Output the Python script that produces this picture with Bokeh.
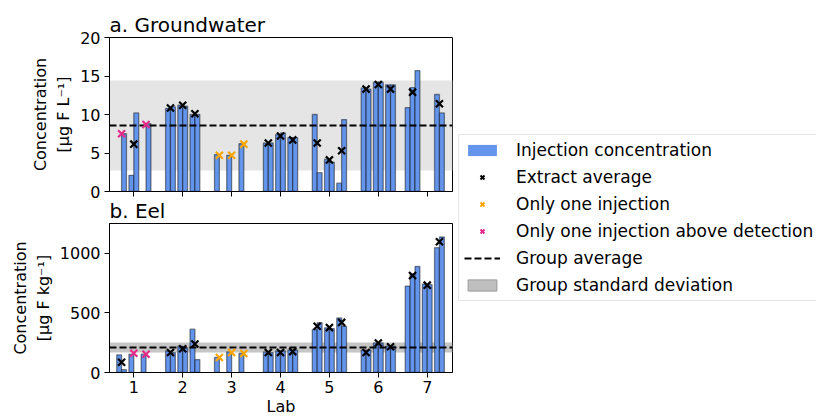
from bokeh.plotting import figure
from bokeh.models import Range1d, FixedTicker, Legend, LegendItem, Title
from bokeh.layouts import row, column
from bokeh.embed import file_html
from bokeh.resources import INLINE

FONT = "DejaVu Sans"

labs = [1, 2, 3, 4, 5, 6, 7]
lab_tick_labels = ["1", "2", "3", "4", "5", "6", "7"]

# ---- a. Groundwater: per lab, three sample slots, each a list of injection values (None = missing)
gw_injections = [
    [[None, 7.5], [2.1, 10.2], [None, 8.8]],
    [[10.8, 11.0], [11.2, 11.1], [10.0, 10.0]],
    [[4.8, None], [4.7, None], [6.2, None]],
    [[6.3, 6.3], [7.4, 7.6], [7.0, 7.0]],
    [[10.0, 2.45], [4.2, 3.8], [1.08, 9.34]],
    [[13.45, 13.3], [14.2, 14.2], [13.85, 13.85]],
    [[10.9, 13.5, 15.7], None, [12.6, 10.2]],
]
gw_extract_avg = [
    [7.5, 6.15, 8.7],
    [10.85, 11.2, 10.1],
    [4.7, 4.7, 6.15],
    [6.3, 7.2, 6.7],
    [6.3, 4.1, 5.3],
    [13.3, 13.9, 13.3],
    [12.9, None, 11.4],
]
gw_kind = [
    ["det", "avg", "det"],
    ["avg", "avg", "avg"],
    ["one", "one", "one"],
    ["avg", "avg", "avg"],
    ["avg", "avg", "avg"],
    ["avg", "avg", "avg"],
    ["avg", None, "avg"],
]
gw_group_avg = 8.55
gw_group_sd = 5.85
gw_yticks = [0, 5, 10, 15, 20]

# ---- b. Eel
eel_injections = [
    [[148, 24], [153, None], [153, None]],
    [[180, 167], [220, 207], [363, 108]],
    [[126, None], [172, None], [159, None]],
    [[172, 167], [180, 180], [188, 188]],
    [[360, 417], [374, 368], [457, 387]],
    [[188, 188], [247, 247], [220, 220]],
    [[723, 826, 887], [740, 735], [1045, 1134]],
]
eel_extract_avg = [
    [86, 161, 153],
    [167, 199, 239],
    [126, 167, 159],
    [167, 167, 175],
    [387, 376, 419],
    [167, 247, 215],
    [812, 731, 1094],
]
eel_kind = [
    ["avg", "det", "det"],
    ["avg", "avg", "avg"],
    ["one", "one", "one"],
    ["avg", "avg", "avg"],
    ["avg", "avg", "avg"],
    ["avg", "avg", "avg"],
    ["avg", "avg", "avg"],
]
eel_group_avg = 208
eel_group_sd = 43
eel_yticks = [0, 500, 1000]

legend_labels = ["Injection concentration", "Extract average", "Only one injection",
                 "Only one injection above detection", "Group average",
                 "Group standard deviation"]

BAR_COLOR = "#6495ED"
KIND_COLOR = {"avg": "black", "one": "#FFA500", "det": "#E7298A"}
SLOT = 0.25
BAR_W = 0.1


def build(injections, extracts, kinds):
    bx, bt = [], []
    mx, my, mc = [], [], []
    for lab, groups, exts, ks in zip(labs, injections, extracts, kinds):
        for slot, (inj, ext, k) in enumerate(zip(groups, exts, ks)):
            if inj is None:
                continue
            n = len(inj)
            center = lab + (slot - 1) * SLOT - 0.05 * (n - 2)
            for i, v in enumerate(inj):
                if v is None:
                    continue
                bx.append(center + (i - (n - 1) / 2) * BAR_W)
                bt.append(v)
            mx.append(center)
            my.append(ext)
            mc.append(KIND_COLOR[k])
    return bx, bt, mx, my, mc


def style(p, ylabel, yticks):
    p.grid.visible = False
    p.outline_line_color = "black"
    p.outline_line_width = 1
    for ax in (p.xaxis[0], p.yaxis[0]):
        ax.axis_line_color = "black"
        ax.major_tick_line_color = "black"
        ax.minor_tick_line_color = None
        ax.major_tick_out = 5
        ax.major_tick_in = 0
        ax.major_label_text_font = FONT
        ax.major_label_text_font_size = "16px"
        ax.major_label_text_color = "black"
        ax.axis_label_text_font = FONT
        ax.axis_label_text_font_size = "16px"
        ax.axis_label_text_font_style = "normal"
        ax.axis_label_text_color = "black"
        ax.major_label_standoff = 4
    p.xaxis.ticker = FixedTicker(ticks=labs)
    p.xaxis.major_label_overrides = {l: t for l, t in zip(labs, lab_tick_labels)}
    p.yaxis.ticker = FixedTicker(ticks=yticks)
    p.yaxis.axis_label = ylabel
    p.yaxis.axis_label_standoff = 4


def title(p, text, side, standoff, line_height=1.2):
    t = Title(text=text, align="left", text_font=FONT, text_font_size="20px",
              text_font_style="normal", text_color="black", standoff=standoff,
              text_line_height=line_height)
    p.add_layout(t, side)


def panel(p, injections, extracts, kinds, avg, sd, band_color):
    bx, bt, mx, my, mc = build(injections, extracts, kinds)
    p.hstrip(y0=[avg - sd], y1=[avg + sd], fill_color=band_color, fill_alpha=1, line_color=None)
    p.vbar(x=bx, top=bt, width=BAR_W, fill_color=BAR_COLOR, line_color="black",
           line_alpha=0.45, line_width=1.3)
    p.hspan(y=[avg], line_color="black", line_width=2, line_dash="7 3")
    p.scatter(x=mx, y=my, marker="x", size=10, line_width=2.2, line_color=mc)


XR = (0.503, 7.517)

p1 = figure(width=458, height=222, x_range=Range1d(*XR), y_range=Range1d(0, 20),
            output_backend="svg", toolbar_location=None,
            min_border_left=109, min_border_right=6, min_border_top=37, min_border_bottom=30)
style(p1, "Concentration\n[μg F L⁻¹]", gw_yticks)
title(p1, "a. Groundwater", "above", 2)
p1.xaxis.major_label_text_font_size = "1px"
p1.xaxis.major_label_text_color = None
p1.xaxis.major_label_standoff = 0
# the second panel's heading sits in the gap under the first panel
title(p1, "b. Eel", "below", 0, 1.0)
panel(p1, gw_injections, gw_extract_avg, gw_kind, gw_group_avg, gw_group_sd, "#E5E5E5")

p2 = figure(width=458, height=196, x_range=Range1d(*XR), y_range=Range1d(0, 1247),
            output_backend="svg", toolbar_location=None,
            min_border_left=109, min_border_right=6, min_border_top=1, min_border_bottom=40)
style(p2, "Concentration\n[μg F kg⁻¹]", eel_yticks)
p2.xaxis.axis_label = "Lab"
p2.xaxis.axis_label_standoff = 1
p2.xaxis.major_label_standoff = 3
panel(p2, eel_injections, eel_extract_avg, eel_kind, eel_group_avg, eel_group_sd, "#C6C6C6")

# ---- legend panel (dummy one-point renderers, out of view, just for the legend glyphs)
pleg = figure(width=358, height=418, x_range=Range1d(0, 1), y_range=Range1d(0, 1),
              output_backend="svg", toolbar_location=None, min_border=0)
pleg.axis.visible = False
pleg.grid.visible = False
pleg.outline_line_color = None
OUT = [-5]
r_bar = pleg.vbar(x=OUT, top=OUT, width=0.1, fill_color=BAR_COLOR, line_color=None)
r_avg = pleg.scatter(x=OUT, y=OUT, marker="x", size=10, line_width=2, line_color="black")
r_one = pleg.scatter(x=OUT, y=OUT, marker="x", size=10, line_width=2, line_color=KIND_COLOR["one"])
r_det = pleg.scatter(x=OUT, y=OUT, marker="x", size=10, line_width=2, line_color=KIND_COLOR["det"])
r_line = pleg.line(x=OUT * 2, y=OUT * 2, line_color="black", line_width=2, line_dash="7 3")
r_band = pleg.quad(left=OUT, right=OUT, top=OUT, bottom=OUT, fill_color="#BFBFBF",
                   line_color="#9A9A9A", line_width=1)
rs = [r_bar, r_avg, r_one, r_det, r_line, r_band]
legend = Legend(items=[LegendItem(label=l, renderers=[r]) for l, r in zip(legend_labels, rs)],
                location=(0, 117), glyph_width=36, glyph_height=14, label_height=14,
                spacing=7, padding=5, margin=0, label_standoff=16,
                border_line_color="#CCCCCC", border_line_width=1,
                label_text_font=FONT, label_text_font_size="17px",
                label_text_color="black", background_fill_color="white")
pleg.add_layout(legend)

layout = row(column(p1, p2), pleg)
open("out.html", "w").write(file_html(layout, INLINE))
